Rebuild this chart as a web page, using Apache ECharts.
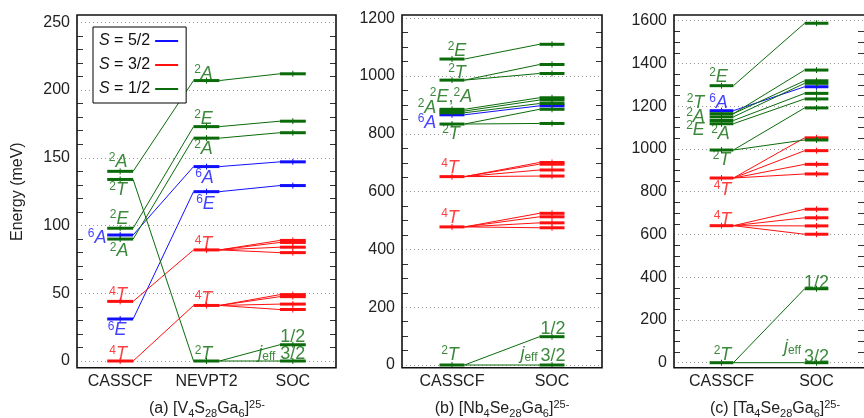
<!DOCTYPE html>
<html>
<head>
<meta charset="utf-8">
<script src="https://cdn.jsdelivr.net/npm/echarts@6/dist/echarts.min.js"></script>
<style>
html, body { margin: 0; padding: 0; background: #fff; }
#main { width: 864px; height: 418px; }
</style>
</head>
<body>
<div id="main"></div>
<script>
// spin of each state: 5 -> S=5/2, 3 -> S=3/2, 1 -> S=1/2
// (a) V4S28Ga6 : CASSCF -> NEVPT2 -> SOC (SOC levels split)
const aStages = ['CASSCF', 'NEVPT2', 'SOC'];
const aSpin = [3, 5, 3, 1, 5, 1, 1, 1];
const aCasscf = [0, 31, 44, 90, 93, 98, 134, 140];
const aNevpt2 = [41, 125, 82, 164.5, 143.5, 173, 0, 207];
const aSoc = [[49, 47.5, 42, 38], [129.5], [89, 87.5, 84, 80], [168.5], [147], [177], [12, 0], [212]];

// (b) Nb4Se28Ga6 : CASSCF -> SOC
const bStages = ['CASSCF', 'SOC'];
const bSpin = [1, 3, 3, 1, 5, 1, 1, 1, 1, 1];
const bCasscf = [0, 478, 652, 834, 866, 873, 879, 885, 986, 1059];
const bSoc = [[98, 0], [525, 513, 492, 475], [701, 695, 675, 654], [885, 836], [897], [905], [917], [925], [1040, 1009], [1110]];

// (c) Ta4Se28Ga6 : CASSCF -> SOC
const cStages = ['CASSCF', 'SOC'];
const cSpin = [1, 3, 3, 1, 1, 1, 1, 1, 5, 1];
const cCasscf = [0, 641, 864, 995, 1118, 1133, 1150, 1165, 1179, 1296];
const cSoc = [[346, 0], [718, 678, 640, 601], [1052, 992, 928, 883], [1192, 1042], [1234], [1260], [1307], [1369, 1319], [1291], [1588]];

const yTicksA = [0, 250, 50];
const yTicksB = [0, 1200, 200];
const yTicksC = [0, 1600, 200];

const G = '#0b6b0b', B = '#1010ff', R = '#ff1010';
// term labels: [stage, energy, text, colour, dx]
const aLabels = [
  [0, 147, '{s|2}{i|A}', G, -2], [0, 126, '{s|2}{i|T}', G, -2], [0, 105, '{s|2}{i|E}', G, -1],
  [0, 91, '{s|6}{i|A}', B, -23], [0, 81, '{s|2}{i|A}', G, -1], [0, 48.5, '{s|4}{i|T}', R, -2],
  [0, 22.6, '{s|6}{i|E}', B, -3], [0, 5, '{s|4}{i|T}', R, -2],
  [1, 212, '{s|2}{i|A}', G, -3], [1, 178.5, '{s|2}{i|E}', G, -3], [1, 156.7, '{s|2}{i|A}', G, -3],
  [1, 135, '{s|6}{i|A}', B, -2], [1, 116, '{s|6}{i|E}', B, -1], [1, 86, '{s|4}{i|T}', R, -3],
  [1, 45.5, '{s|4}{i|T}', R, -3], [1, 5, '{s|2}{i|T}', G, -3],
  [2, 17.7, '{n|1/2}', G, 0], [2, 5.5, '{n|3/2}', G, 0], [2, 6, '{i|j}{u|eff}', G, -26]
];
const bLabels = [
  [0, 1087, '{s|2}{i|E}', G, 5], [0, 1011, '{s|2}{i|T}', G, 5], [0, 928, '{s|2}{i|E}{n|,}{s|2}{i|A}', G, -1],
  [0, 890, '{s|2}{i|A}', G, -25], [0, 838, '{s|6}{i|A}', B, -25], [0, 800, '{s|2}{i|T}', G, -1],
  [0, 682, '{s|4}{i|T}', R, -2], [0, 510, '{s|4}{i|T}', R, -2], [0, 35, '{s|2}{i|T}', G, -2],
  [1, 124, '{n|1/2}', G, 1], [1, 30, '{n|3/2}', G, 1], [1, 38, '{i|j}{u|eff}', G, -23]
];
const cLabels = [
  [0, 1337, '{s|2}{i|E}', G, -3], [0, 1216, '{s|2}{i|T}', G, -26], [0, 1216, '{s|6}{i|A}', B, -3],
  [0, 1150, '{s|2}{i|A}', G, -26], [0, 1089, '{s|2}{i|E}', G, -26], [0, 1071, '{s|2}{i|A}', G, -1],
  [0, 949, '{s|2}{i|T}', G, 0], [0, 809, '{s|4}{i|T}', R, 1], [0, 668, '{s|4}{i|T}', R, 1],
  [0, 37, '{s|2}{i|T}', G, 1], [1, 372, '{n|1/2}', G, 0], [1, 25, '{n|3/2}', G, 0],
  [1, 74, '{i|j}{u|eff}', G, -24]
];

const spinColor = { 5: B, 3: R, 1: G };
const spinName = { 5: 'S = 5/2', 3: 'S = 3/2', 1: 'S = 1/2' };
const FONT = 'Liberation Sans, Arial, sans-serif';

// panel boxes in px
const panels = [
  { left: 77, right: 336, yTop: 22.3, yZero: 361, stages: aStages, spin: aSpin, vals: [aCasscf, aNevpt2, aSoc], labels: aLabels, ticks: yTicksA, minor: 5, frac: 0.15, margin: 13 },
  { left: 402, right: 602, yTop: 18.3, yZero: 365, stages: bStages, spin: bSpin, vals: [bCasscf, bSoc], labels: bLabels, ticks: yTicksB, minor: 4, frac: 0.125, margin: 9 },
  { left: 674, right: 875, yTop: 20.7, yZero: 362.7, stages: cStages, spin: cSpin, vals: [cCasscf, cSoc], labels: cLabels, ticks: yTicksC, minor: 4, frac: 0.125, margin: 11 }
];

function levelItem(frac) {
  return function (params, api) {
    const p = api.coord([api.value(0), api.value(1)]);
    const hw = api.size([1, 0])[0] * frac;
    const c = api.visual('color');
    return {
      type: 'group',
      children: [
        { type: 'line', shape: { x1: p[0] - hw, y1: p[1], x2: p[0] + hw, y2: p[1] }, style: { stroke: c, lineWidth: 3 } },
        { type: 'line', shape: { x1: p[0], y1: p[1] - 3, x2: p[0], y2: p[1] + 3 }, style: { stroke: c, lineWidth: 1 } }
      ]
    };
  };
}
function linkItem(frac) {
  return function (params, api) {
    const p1 = api.coord([api.value(0), api.value(1)]);
    const p2 = api.coord([api.value(2), api.value(3)]);
    const hw = api.size([1, 0])[0] * frac;
    return {
      type: 'line',
      shape: { x1: p1[0] + hw, y1: p1[1], x2: p2[0] - hw, y2: p2[1] },
      style: { stroke: api.visual('color'), lineWidth: 1 }
    };
  };
}

const labelRich = {
  i: { fontSize: 18, fontStyle: 'italic', lineHeight: 20, fontFamily: FONT },
  s: { fontSize: 12, lineHeight: 10, verticalAlign: 'top', fontFamily: FONT },
  u: { fontSize: 12, lineHeight: 10, verticalAlign: 'bottom', fontFamily: FONT },
  n: { fontSize: 18, lineHeight: 20, fontFamily: FONT }
};

const grids = [], xAxes = [], yAxes = [], series = [], graphics = [];
panels.forEach(function (P, k) {
  grids.push({ left: P.left, width: P.right - P.left, top: P.yTop, height: P.yZero - P.yTop });
  xAxes.push({
    type: 'category', gridIndex: k, data: P.stages,
    axisLine: { show: false }, axisTick: { show: false },
    axisLabel: { fontSize: 16, color: '#222', fontFamily: FONT, margin: P.margin }
  });
  const yBase = {
    type: 'value', gridIndex: k, min: P.ticks[0], max: P.ticks[1], interval: P.ticks[2],
    axisLine: { show: false },
    axisTick: { inside: true, length: 13, lineStyle: { color: '#333' } },
    minorTick: { show: true, splitNumber: P.minor, length: 6, lineStyle: { color: '#333' } }
  };
  yAxes.push(Object.assign({}, yBase, {
    position: 'left',
    axisLabel: { fontSize: 16, color: '#222', fontFamily: FONT, margin: 7, formatter: function (v) { return String(v); } },
    splitLine: { show: true, lineStyle: { type: [1, 3], color: '#999' } },
    name: k === 0 ? 'Energy (meV)' : '', nameLocation: 'middle', nameGap: 51,
    nameTextStyle: { fontSize: 16, color: '#222', fontFamily: FONT }
  }));
  yAxes.push(Object.assign({}, yBase, {
    position: 'right', axisLabel: { show: false }, splitLine: { show: false }
  }));

  [5, 3, 1].forEach(function (s) {
    const levels = [], links = [];
    P.spin.forEach(function (sp, i) {
      if (sp !== s) return;
      for (let st = 0; st < P.vals.length; st++) {
        const cur = [].concat(P.vals[st][i]);
        cur.forEach(function (v) { levels.push([st, v]); });
        if (st + 1 < P.vals.length) {
          const nxt = [].concat(P.vals[st + 1][i]);
          cur.forEach(function (v) { nxt.forEach(function (w) { links.push([st, v, st + 1, w]); }); });
        }
      }
    });
    series.push({
      type: 'custom', name: spinName[s], xAxisIndex: k, yAxisIndex: 2 * k, silent: true,
      itemStyle: { color: spinColor[s] }, renderItem: linkItem(P.frac),
      encode: { x: [0, 2], y: [1, 3] }, data: links, z: 2
    });
    series.push({
      type: 'custom', name: spinName[s], xAxisIndex: k, yAxisIndex: 2 * k, silent: true,
      itemStyle: { color: spinColor[s] }, renderItem: levelItem(P.frac),
      encode: { x: 0, y: 1 }, data: levels, z: 3
    });
  });

  series.push({
    type: 'scatter', xAxisIndex: k, yAxisIndex: 2 * k, symbolSize: 0, silent: true, z: 5,
    data: P.labels.map(function (l) {
      return { value: [l[0], l[1]], name: l[2], label: { color: l[3], offset: [l[4], 0] } };
    }),
    label: { show: true, position: 'inside', fontSize: 18, fontFamily: FONT, formatter: function (p) { return p.name; }, rich: labelRich }
  });

  graphics.push({
    type: 'rect', silent: true, z: 10,
    shape: { x: P.left, y: 15, width: P.right - P.left, height: 352.7 },
    style: { fill: 'none', stroke: '#111', lineWidth: 1.6 }
  });
});

const capRich = {
  d: { fontSize: 11, lineHeight: 10, verticalAlign: 'bottom', fontFamily: FONT },
  p: { fontSize: 11, lineHeight: 10, verticalAlign: 'top', fontFamily: FONT }
};
[
  [207, '(a) [V{d|4}S{d|28}Ga{d|6}]{p|25-}'],
  [502, '(b) [Nb{d|4}Se{d|28}Ga{d|6}]{p|25-}'],
  [775, '(c) [Ta{d|4}Se{d|28}Ga{d|6}]{p|25-}']
].forEach(function (c) {
  graphics.push({
    type: 'text', x: c[0], y: 409, silent: true,
    style: { text: c[1], rich: capRich, fontSize: 16, lineHeight: 20, fontFamily: FONT, fill: '#222', align: 'center', verticalAlign: 'middle' }
  });
});

const chart = echarts.init(document.getElementById('main'));
chart.setOption({
  animation: false,
  backgroundColor: '#fff',
  grid: grids,
  xAxis: xAxes,
  yAxis: yAxes,
  legend: {
    left: 93, top: 27, orient: 'vertical', align: 'right', selectedMode: false,
    itemWidth: 23, itemHeight: 2, itemGap: 8, padding: [6, 8, 6, 6],
    borderColor: '#000', borderWidth: 1, backgroundColor: '#fff', z: 8,
    data: [
      { name: 'S = 5/2', icon: 'rect' },
      { name: 'S = 3/2', icon: 'rect' },
      { name: 'S = 1/2', icon: 'rect' }
    ],
    formatter: function (name) { return '{i|S}' + name.slice(1); },
    textStyle: {
      fontSize: 16, color: '#111', fontFamily: FONT,
      rich: { i: { fontSize: 16, fontStyle: 'italic', fontFamily: FONT } }
    }
  },
  graphic: graphics,
  series: series
});
</script>
</body>
</html>
